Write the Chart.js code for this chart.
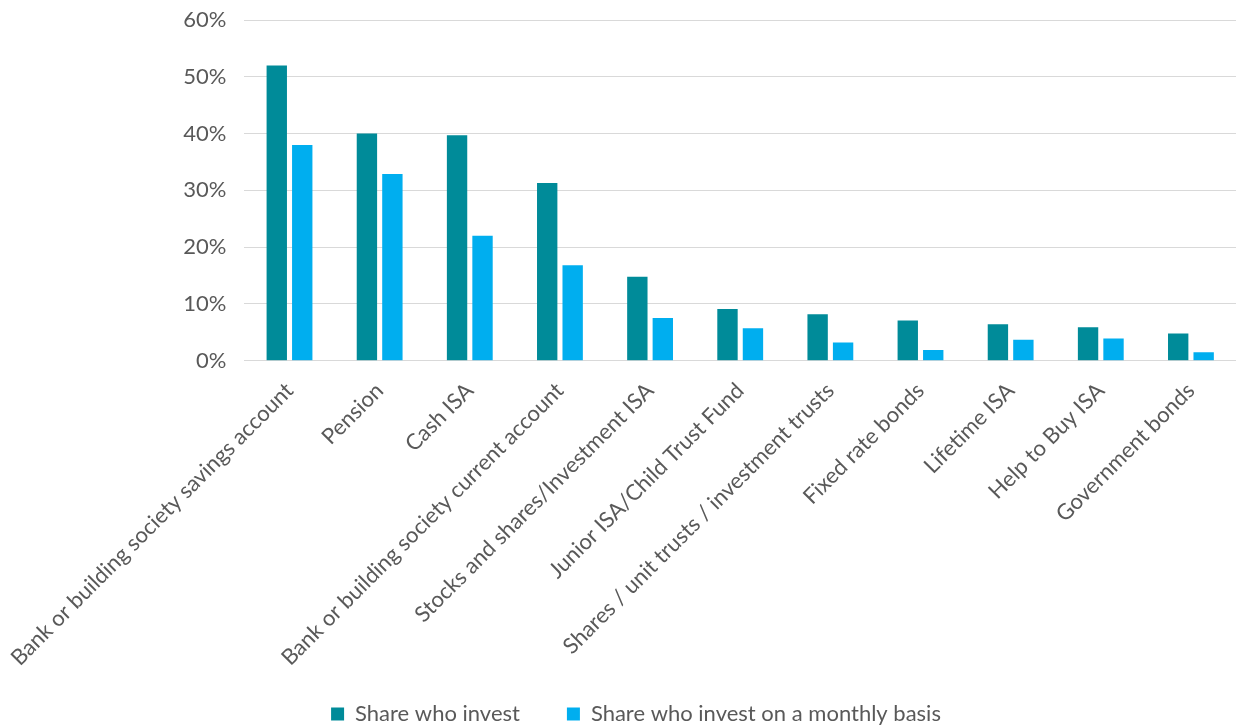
<!DOCTYPE html>
<html>
<head>
<meta charset="utf-8">
<script src="https://cdn.jsdelivr.net/npm/chart.js@4/dist/chart.umd.min.js"></script>
<style>
html,body{margin:0;padding:0;background:#fff;}
#wrap{width:1236px;height:727px;}
</style>
</head>
<body>
<div id="wrap"><canvas id="c" width="1236" height="727"></canvas></div>
<script>
const categories = [
  "Bank or building society savings account",
  "Pension",
  "Cash ISA",
  "Bank or building society current account",
  "Stocks and shares/Investment ISA",
  "Junior ISA/Child Trust Fund",
  "Shares / unit trusts / investment trusts",
  "Fixed rate bonds",
  "Lifetime ISA",
  "Help to Buy ISA",
  "Government bonds"
];
const shareInvest = [52, 40, 39.7, 31.3, 14.8, 9.1, 8.2, 7.1, 6.4, 5.9, 4.8];
const shareMonthly = [38, 32.9, 22, 16.8, 7.5, 5.7, 3.2, 1.9, 3.7, 3.9, 1.5];
const seriesNames = ["Share who invest", "Share who invest on a monthly basis"];
const yTicks = [0, 10, 20, 30, 40, 50, 60];

const FONT = "Lato, 'Open Sans', sans-serif";

const legendTweak = {
  id: 'legendTweak',
  beforeUpdate(chart) {
    const lg = chart.legend;
    if (lg && !lg._patched) {
      const f = lg.fit;
      lg.fit = function () { f.call(this); this.height = 39; };
      lg._patched = true;
    }
  },
  afterLayout(chart) {
    const lg = chart.legend;
    if (lg) {
      lg.top = 656; lg.bottom = chart.height; lg.height = lg.bottom - lg.top;
      lg.left += 18; lg.right += 18;
    }
  }
};

new Chart(document.getElementById('c'), {
  type: 'bar',
  data: {
    labels: categories,
    datasets: [
      {label: seriesNames[0], data: shareInvest, backgroundColor: '#008B99', borderWidth: 0},
      {label: seriesNames[1], data: shareMonthly, backgroundColor: '#00AEEF', borderWidth: 0}
    ]
  },
  plugins: [legendTweak],
  options: {
    responsive: false,
    animation: false,
    layout: {padding: {top: 20, right: 0, left: 0, bottom: 0}},
    datasets: {bar: {categoryPercentage: 0.565, barPercentage: 0.8}},
    plugins: {
      legend: {
        position: 'bottom',
        labels: {
          font: {family: FONT, size: 22},
          color: '#595959',
          boxWidth: 13,
          boxHeight: 13,
          padding: 47
        }
      },
      tooltip: {enabled: false}
    },
    scales: {
      x: {
        grid: {display: false, drawTicks: false},
        border: {display: true, color: '#d9d9d9', width: 1},
        afterFit: (scale) => { scale.paddingLeft = scale.paddingLeft - 6; },
        ticks: {
          font: {family: FONT, size: 22},
          color: '#595959',
          maxRotation: 45,
          minRotation: 45,
          autoSkip: false,
          padding: 17
        }
      },
      y: {
        min: 0,
        max: 60,
        afterBuildTicks: (axis) => { axis.ticks = yTicks.map(v => ({value: v})); },
        afterFit: (scale) => { scale.paddingTop = 0; },
        grid: {color: '#d9d9d9', drawTicks: false},
        border: {display: false},
        ticks: {
          font: {family: FONT, size: 22},
          color: '#595959',
          padding: 18,
          callback: (v) => v + '%'
        }
      }
    }
  }
});
</script>
</body>
</html>
